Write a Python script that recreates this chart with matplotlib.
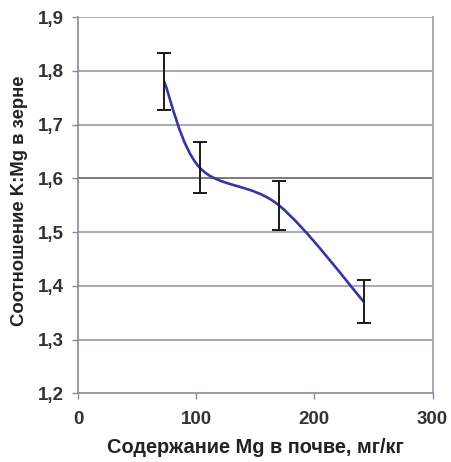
import numpy as np
import matplotlib
matplotlib.use('Agg')
import matplotlib.pyplot as plt
from matplotlib.path import Path
from matplotlib.patches import PathPatch

# ── data ─────────────────────────────────────────────────────────────────────
mg_soil = [73, 103, 170, 242]          # мг/кг
k_mg    = [1.78, 1.62, 1.55, 1.37]
err     = [0.053, 0.048, 0.046, 0.040]

xticks = [0, 100, 200, 300]
xtick_labels = ["0", "100", "200", "300"]
yticks = [1.2, 1.3, 1.4, 1.5, 1.6, 1.7, 1.8, 1.9]
ytick_labels = ["1,2", "1,3", "1,4", "1,5", "1,6", "1,7", "1,8", "1,9"]

plt.rcParams['font.family'] = ['Liberation Sans', 'DejaVu Sans']

fig = plt.figure(figsize=(4.51, 4.62), dpi=100)
ax = fig.add_axes([0.173, 0.1487, 0.786, 0.8139])
ax.set_xlim(0, 300)
ax.set_ylim(1.2, 1.9)

# horizontal grid
for y in yticks[1:]:
    c = '#7a7a84' if abs(y - 1.6) < 1e-9 else '#a8a8b4'
    ax.axhline(y, color=c, lw=1.4, zorder=1)

ax.spines['top'].set_visible(False)
ax.spines['right'].set_color('#a8a8b4')
ax.spines['right'].set_linewidth(1.4)
for s in ['left', 'bottom']:
    ax.spines[s].set_color('#8a8a96')
    ax.spines[s].set_linewidth(1.2)

# ── Excel-like smoothed line (Bezier, computed in pixel space) ───────────────
fig.canvas.draw()
pts = ax.transData.transform(np.column_stack([mg_soil, k_mg]))
n = len(pts)
verts = [pts[0]]
codes = [Path.MOVETO]
for i in range(n - 1):
    p0 = pts[i - 1] if i > 0 else pts[i]
    p1 = pts[i]
    p2 = pts[i + 1]
    p3 = pts[i + 2] if i + 2 < n else pts[i + 1]
    c1 = p1 + (p2 - p0) / 6.0
    c2 = p2 - (p3 - p1) / 6.0
    verts += [c1, c2, p2]
    codes += [Path.CURVE4] * 3
verts = ax.transData.inverted().transform(np.array(verts))
ax.add_patch(PathPatch(Path(verts, codes), fill=False, edgecolor='#3535a5',
                       lw=1.9, zorder=3))

ax.errorbar(mg_soil, k_mg, yerr=err, fmt='none', ecolor='#1a1a1a',
            elinewidth=1.4, capsize=5, capthick=1.4, zorder=4)

ax.set_xticks(xticks)
ax.set_xticklabels(xtick_labels)
ax.set_yticks(yticks)
ax.set_yticklabels(ytick_labels)
ax.tick_params(axis='both', colors='#8a8a96', labelcolor='#333333',
               labelsize=13.5, length=4, width=1)
ax.tick_params(axis='x', pad=9)
ax.tick_params(axis='y', pad=6)
for lab in ax.get_xticklabels() + ax.get_yticklabels():
    lab.set_fontweight('bold')

ax.set_xlabel('Содержание Mg в почве, мг/кг', fontsize=14.4,
              fontweight='bold', color='#222222')
ax.set_ylabel('Соотношение K:Mg в зерне', fontsize=13.3,
              fontweight='bold', color='#222222')
# label centres: x label at y≈447px, y label at x≈20px
ax.xaxis.set_label_coords(0.5, -(447 - 393) / 376, transform=ax.transAxes)
ax.yaxis.set_label_coords(-(78 - 20) / 354, (393 - 200) / 376,
                          transform=ax.transAxes)
ax.xaxis.label.set_va('center')
ax.yaxis.label.set_va('center')

fig.savefig('out.png', dpi=100)
